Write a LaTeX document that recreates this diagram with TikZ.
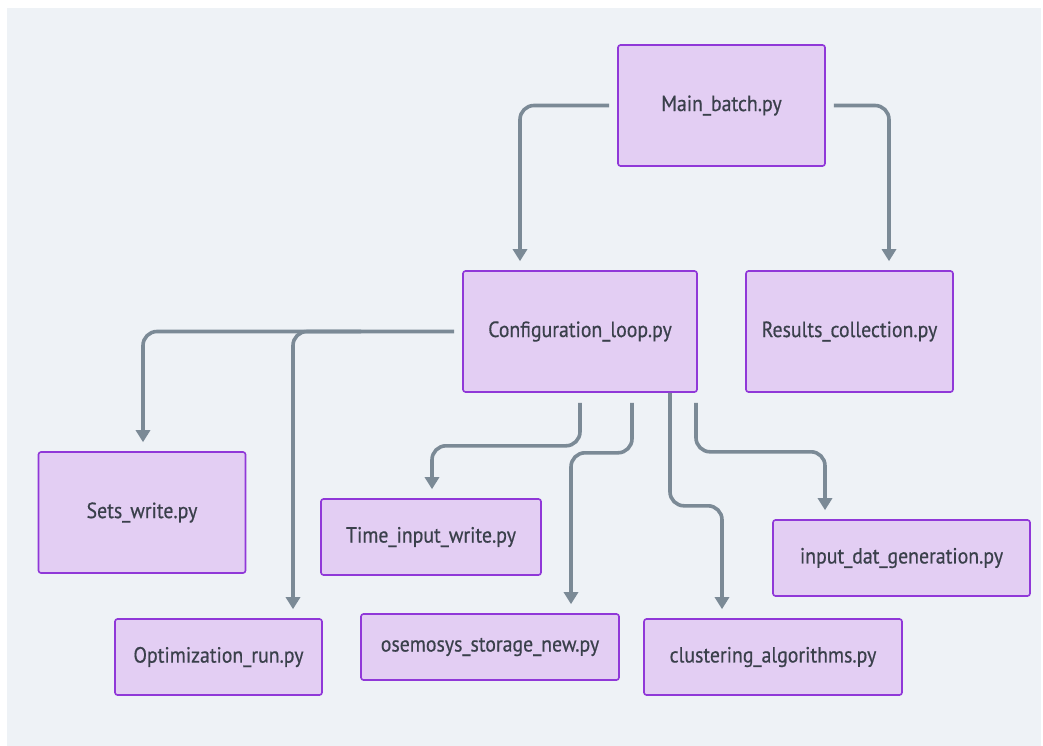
\documentclass[tikz,border=0pt]{standalone}
\usepackage{fontspec}
\setmainfont[FakeStretch=0.9, FakeBold=0.5]{PT Sans}
\usetikzlibrary{arrows.meta, positioning}

\definecolor{bggray}{HTML}{EEF2F6}
\definecolor{boxfill}{HTML}{E3CEF3}
\definecolor{boxline}{HTML}{9038D8}
\definecolor{flowgray}{HTML}{7B8A96}
\definecolor{txtgray}{HTML}{3A404B}

\begin{document}
\begin{tikzpicture}[x=1pt, y=-1pt,
    file/.style={draw=boxline, fill=boxfill, line width=1.6pt, rounded corners=2.5pt,
        inner sep=0pt, text=txtgray, font=\fontsize{22}{26}\selectfont},
    flow/.style={draw=flowgray, line width=3.6pt, rounded corners=14pt,
        -{Triangle[length=12pt, width=14pt]}}]
    \useasboundingbox (0,0) rectangle (1043,746);
    \fill[white] (0,0) rectangle (1043,746);
    \fill[bggray] (7,8) rectangle (1041,746);

    % scripts
    \node[file, minimum width=207, minimum height=121] (main) at (721.5,105.5) {Main\_batch.py};
    \node[file, minimum width=234, minimum height=121] (config) at (580,331.5) {Configuration\_loop.py};
    \node[file, minimum width=207, minimum height=121] (results) at (849.5,331.5) {Results\_collection.py};
    \node[file, minimum width=207, minimum height=121] (sets) at (142,512.5) {Sets\_write.py};
    \node[file, minimum width=207, minimum height=76] (optim) at (218.5,657) {Optimization\_run.py};
    \node[file, minimum width=220, minimum height=76] (timein) at (431,537) {Time\_input\_write.py};
    \node[file, minimum width=258, minimum height=66] (storage) at (490,647) {osemosys\_storage\_new.py};
    \node[file, minimum width=258, minimum height=76] (cluster) at (773,657) {clustering\_algorithms.py};
    \node[file, minimum width=257, minimum height=76] (inputdat) at (901.5,558) {input\_dat\_generation.py};

    % calls
    \draw[flow] ([xshift=-8]main.west) -| ([xshift=-60, yshift=9]config.north);
    \draw[flow] ([xshift=8]main.east) -| ([xshift=39.5, yshift=9]results.north);
    \draw[flow] ([xshift=-8]config.west) -| ([xshift=1, yshift=9]sets.north);
    \draw[flow] ([xshift=-101]config.west) -| ([xshift=74.5, yshift=9]optim.north);
    \draw[flow] ([yshift=-10]config.south) -- ++(0,43) -| ([xshift=1, yshift=9]timein.north);
    \draw[flow] ([xshift=52, yshift=-10]config.south) -- ++(0,50) -| ([xshift=81, yshift=9]storage.north);
    \draw[flow] ([xshift=90]config.south) -- ++(0,113) -| ([xshift=-51, yshift=9]cluster.north);
    \draw[flow] ([xshift=116, yshift=-10]config.south) -- ++(0,49) -| ([xshift=-76.5, yshift=9]inputdat.north);
\end{tikzpicture}
\end{document}
